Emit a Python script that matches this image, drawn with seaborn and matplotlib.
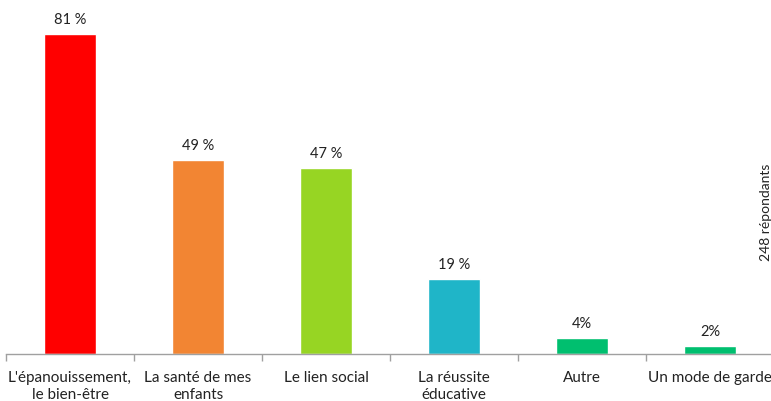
import matplotlib
matplotlib.use("Agg")
import matplotlib.pyplot as plt
import seaborn as sns
import pandas as pd

categories = ["L'épanouissement,\nle bien-être", "La santé de mes\nenfants", "Le lien social",
              "La réussite\néducative", "Autre", "Un mode de garde"]
values = [81, 49, 47, 19, 4, 2]
labels = ["81 %", "49 %", "47 %", "19 %", "4%", "2%"]
colors = ["#FF0000", "#F28533", "#97D523", "#1FB5C8", "#00BF6F", "#00BF6F"]
note = "248 répondants"

sns.set_theme(style="white")
plt.rcParams['font.family'] = ['Lato', 'DejaVu Sans']

df = pd.DataFrame({"cat": categories, "val": values})
fig = plt.figure(figsize=(7.71, 4.01), dpi=100)
W, H = 771, 401
ax = fig.add_axes([6 / W, (H - 354) / H, 768 / W, 353 / H])
sns.barplot(data=df, x="cat", y="val", hue="cat", palette=colors, legend=False,
            width=0.4, saturation=1, ax=ax)
ax.set_ylim(0, 89.3)
ax.set_xlim(-0.5, len(categories) - 0.5)
ax.set_xlabel("")
ax.set_ylabel("")
ax.set_yticks([])
for s in ["top", "right", "left"]:
    ax.spines[s].set_visible(False)
ax.spines["bottom"].set_color("#A0A0A0")
ax.spines["bottom"].set_linewidth(1)
ax.set_xticks(range(len(categories)))
ax.set_xticklabels(categories, fontsize=11, color="#222222", linespacing=1.3)
ax.tick_params(axis="x", which="major", length=0, pad=12)
ax.set_xticks([i - 0.5 for i in range(len(categories) + 1)], minor=True)
ax.tick_params(axis="x", which="minor", length=5, color="#A0A0A0", width=1, bottom=True)
for p, lab in zip(ax.patches, labels):
    ax.text(p.get_x() + p.get_width() / 2, p.get_height() + 1.8, lab,
            ha="center", va="bottom", fontsize=10.5, color="#222222")
fig.text(766 / W, 1 - 212 / H, note, rotation=90, ha="center", va="center",
         fontsize=10, color="#222222")
fig.savefig("out.png", dpi=100)
